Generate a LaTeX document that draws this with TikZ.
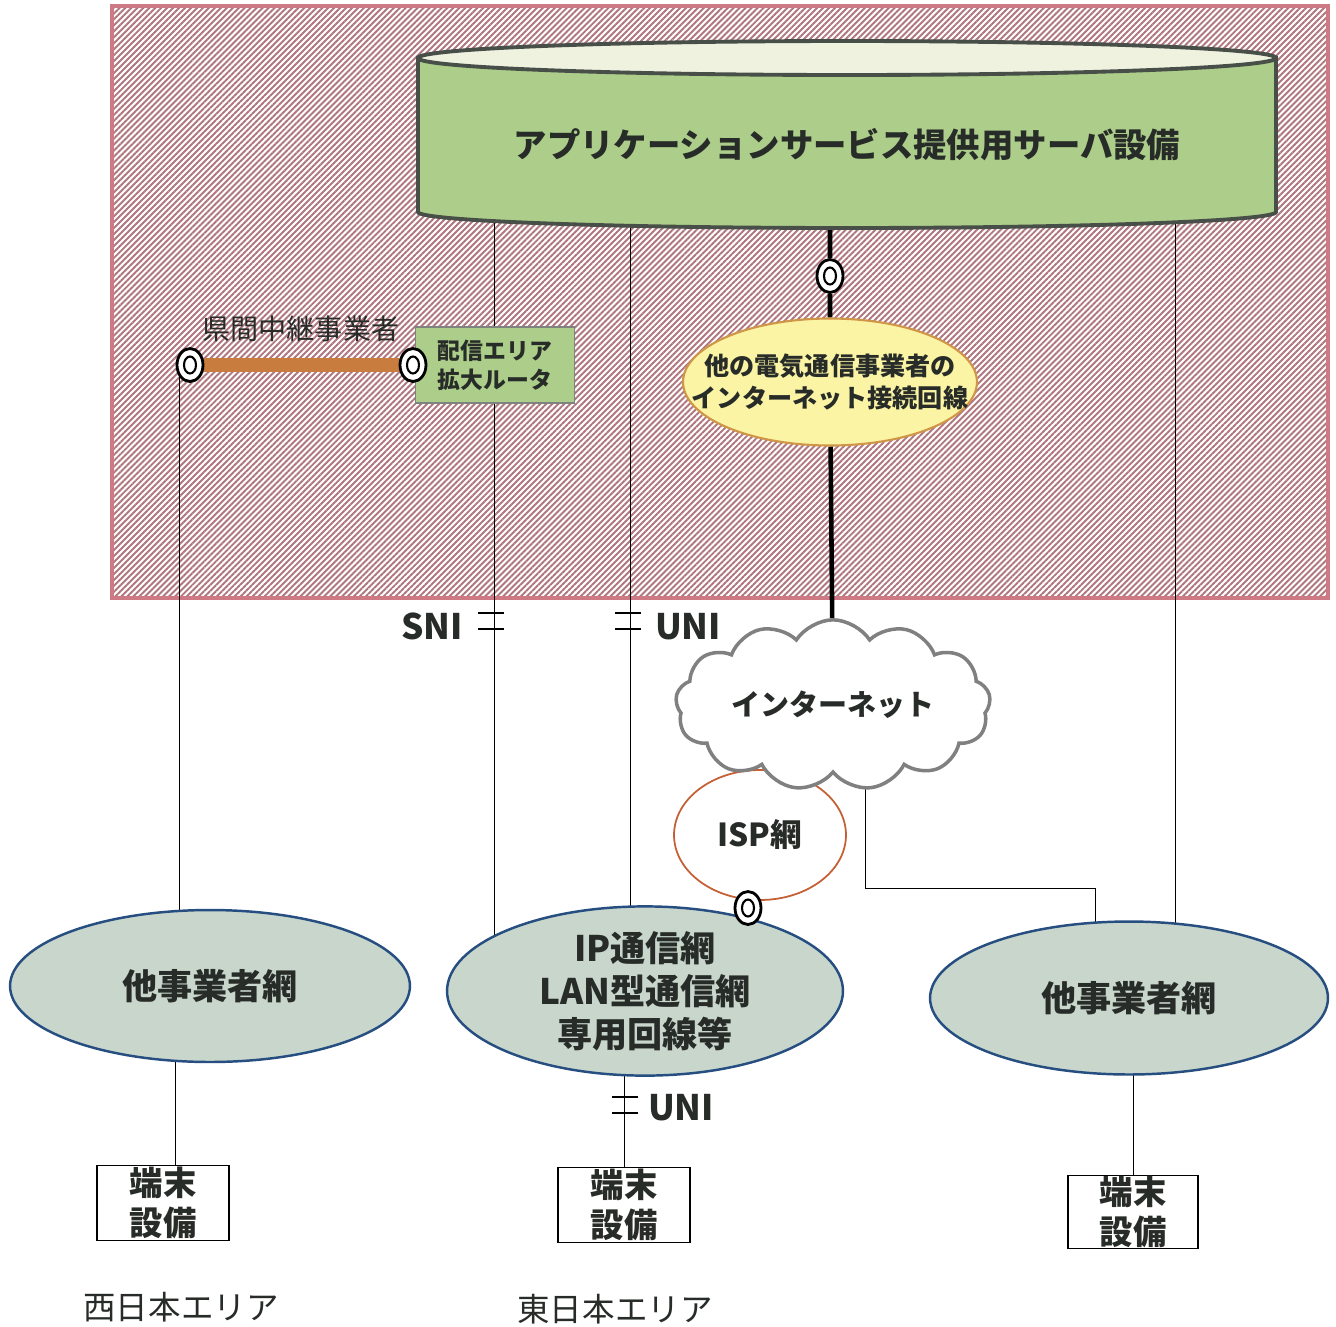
\documentclass[tikz,border=0pt]{standalone}
\usepackage{fontspec}
\setmainfont{Noto Sans CJK JP}
\usepackage{tikz}
\usetikzlibrary{positioning,shapes.geometric,shapes.symbols,patterns.meta}

\definecolor{hatch}{RGB}{176,118,126}
\definecolor{frame}{RGB}{205,122,132}
\definecolor{srvgreen}{RGB}{172,206,138}
\definecolor{srvtop}{RGB}{238,242,222}
\definecolor{srvedge}{RGB}{72,78,72}
\definecolor{netfill}{RGB}{200,214,204}
\definecolor{netedge}{RGB}{38,78,128}
\definecolor{lineyel}{RGB}{250,244,164}
\definecolor{yeledge}{RGB}{208,150,72}
\definecolor{ispedge}{RGB}{196,96,52}
\definecolor{relay}{RGB}{200,124,62}
\definecolor{ink}{RGB}{40,44,40}

\pgfdeclarelayer{bg}
\pgfdeclarelayer{wires}
\pgfsetlayers{bg,wires,main}

\begin{document}
\begin{tikzpicture}[x=0.02cm,y=-0.02cm,line width=0.8pt,text=ink,every node/.style={inner sep=0pt}]
\tikzstyle{net} = [ellipse,draw=netedge,line width=1.4pt,fill=netfill,align=center,font=\fontsize{20}{24.5}\selectfont\bfseries]
\tikzstyle{term} = [ellipse,draw=black,line width=1.6pt,fill=white,minimum width=0.52cm,minimum height=0.66cm,
    path picture={\draw[line width=1.2pt] (path picture bounding box.center) ellipse (0.12cm and 0.17cm);}]
\tikzstyle{endbox} = [draw=black,line width=0.9pt,minimum width=2.64cm,minimum height=1.5cm,align=center,font=\fontsize{19}{23}\selectfont\bfseries]
\tikzstyle{lbl} = [font=\fontsize{20}{24}\selectfont\bfseries]
\tikzstyle{area} = [font=\fontsize{18.5}{22}\selectfont]
\tikzset{ifmark/.pic={\draw[line width=0.9pt] (-13,-8) -- (13,-8) (-13,8) -- (13,8);}}

    \useasboundingbox (0,0) rectangle (1336,1326);
    \begin{pgfonlayer}{bg}
    \fill[white] (0,0) rectangle (1336,1326);
    \draw[draw=frame,line width=2.8pt,pattern={Lines[angle=45,distance=2.4pt,line width=1.1pt]},pattern color=hatch]
        (112,6) rectangle (1328,598);
    \end{pgfonlayer}

    % server cylinder
    \filldraw[draw=srvedge,fill=srvgreen,line width=2.2pt] (418,58) -- (418,212)
        arc[start angle=180,end angle=0,x radius=429,y radius=16] -- (1276,58) -- cycle;
    \filldraw[draw=srvedge,fill=srvtop,line width=2.2pt] (847,58) ellipse[x radius=429,y radius=17];
    \node[font=\fontsize{19}{23}\selectfont\bfseries] (srv) at (847,145) {アプリケーションサービス提供用サーバ設備};
    \coordinate (s1) at (494,221);
    \coordinate (s2) at (630,226);
    \coordinate (s3) at (830,228);
    \coordinate (s4) at (1175,222);

    % relay
    \node[draw=srvedge!70,fill=srvgreen,line width=0.8pt,minimum width=3.18cm,minimum height=1.52cm,align=left,
        font=\fontsize{13}{16.5}\selectfont\bfseries] (rtr) at (495,365) {配信エリア\\拡大ルータ};
    \node[term] (tL) at (190,365) {};
    \node[term] (tR) at (413,365) {};
    \node[font=\fontsize{16}{19}\selectfont,anchor=south west] (kenkan) [above right=0.2cm and 0.04cm of tL.north east] {県間中継事業者};

    % internet side
    \node[ellipse,draw=yeledge,fill=lineyel,line width=1.2pt,inner xsep=-0.85cm,minimum width=5.88cm,minimum height=2.54cm,align=center,
        font=\fontsize{14.3}{18.5}\selectfont\bfseries] (yel) at (830,382) {他の電気通信事業者の\\インターネット接続回線};
    \node[term] (tI) at (830,276) {};
    \node[ellipse,draw=ispedge,fill=white,line width=1pt,minimum width=3.44cm,minimum height=2.6cm,
        font=\fontsize{18}{22}\selectfont\bfseries] (isp) at (760,835) {ISP網};
    \node[cloud,cloud puffs=13,cloud puff arc=115,aspect=2.1,draw=black!50,fill=white,line width=2pt,
        minimum width=6.3cm,minimum height=3cm,font=\fontsize{16.5}{20}\selectfont\bfseries] (inet) at (833,705) {インターネット};

    % networks
    \node[net,minimum width=8cm,minimum height=3.04cm] (west) at (210,986) {他事業者網};
    \node[net,minimum width=7.92cm,minimum height=3.2cm] (ip) at (645,991) {IP通信網\\LAN型通信網\\専用回線等};
    \node[net,minimum width=7.96cm,minimum height=3.06cm] (east) at (1129,998) {他事業者網};
    \node[term] (tS) at (748,908) {};

    % terminals
    \node[endbox] (bxW) at (163,1203) {端末\\設備};
    \node[endbox] (bxM) at (624,1205) {端末\\設備};
    \node[endbox,minimum width=2.6cm,minimum height=1.46cm] (bxE) at (1133,1212) {端末\\設備};
    \node[area] (areaW) at (181,1307) {西日本エリア};
    \node[area] (areaE) at (615,1309) {東日本エリア};

    % interfaces
    \node[lbl] (sni) at (432,626) {SNI};
    \node[lbl] (uni) at (688,627) {UNI};
    \node[lbl] (uni2) at (681,1108) {UNI};
    \pic at (491,621) {ifmark};
    \pic at (628,621) {ifmark};
    \pic at (625,1105) {ifmark};

    \begin{pgfonlayer}{wires}
    \draw (s1) -- (s1 |- rtr.north);
    \draw (rtr.south -| s1) -- (s1 |- ip.center);
    \draw (s2) -- (s2 |- ip.center);
    \draw[line width=2.6pt] (s3) -- (tI) -- (yel) -- (inet);
    \draw (s4) -- (s4 |- east.center);
    \draw[relay,line width=8pt] (tL) -- (tR);
    \draw ([xshift=-0.22cm]tL.center) -- ([xshift=-0.22cm]tL.center |- west.center);
    \draw ([xshift=-0.7cm]west.center) -- ([xshift=-0.7cm]west.center |- bxW.north);
    \draw (bxM.north |- ip.center) -- (bxM.north);
    \draw (bxE.north |- east.center) -- (bxE.north);
    \coordinate (bend) at (1095,888);
    \draw ([xshift=0.64cm]inet.center) |- (bend) -- (bend |- east.center);
    \end{pgfonlayer}
\end{tikzpicture}
\end{document}
